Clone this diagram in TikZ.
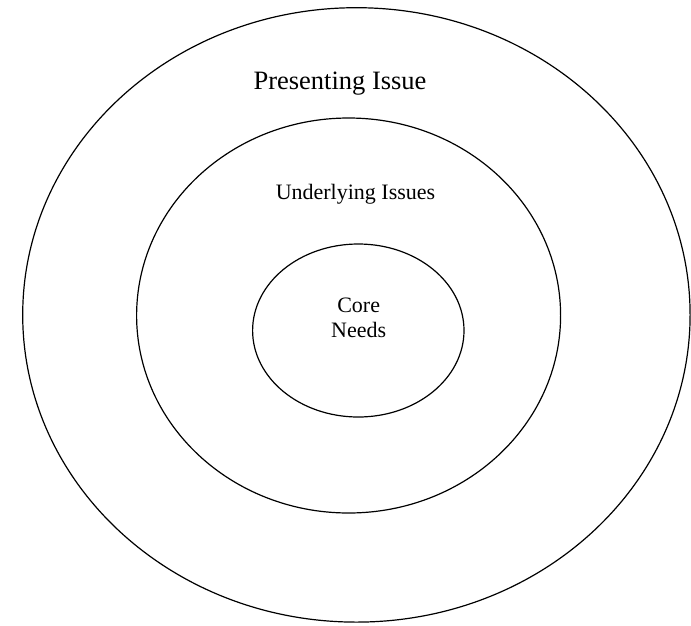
\documentclass[tikz,border=0pt]{standalone}
\usepackage{fontspec}
\setmainfont{Liberation Serif}
\begin{document}
\begin{tikzpicture}[x=1pt, y=-1pt,
    ring/.style={draw, line width=1.2pt},
    biglabel/.style={anchor=base, inner sep=0pt, font=\fontsize{26.5}{30}\selectfont},
    smalllabel/.style={anchor=base, inner sep=0pt, font=\fontsize{22}{24}\selectfont}]
    \useasboundingbox (0,0) rectangle (691,625);

    % Rings
    \draw[ring] (356.4,314.9) ellipse [x radius=333.7, y radius=307.2];
    \draw[ring] (348.6,315.5) ellipse [x radius=212, y radius=197.5];
    \draw[ring] (358.3,330.5) ellipse [x radius=105.7, y radius=86.5];

    % Labels
    \node[biglabel] (presenting) at (340,89) {Presenting Issue};
    \node[smalllabel] (underlying) at (355.5,199) {Underlying Issues};
    \node[smalllabel] (core) at (358.7,312.7) {Core};
    \node[smalllabel] (needs) at (358.7,337) {Needs};
\end{tikzpicture}
\end{document}
